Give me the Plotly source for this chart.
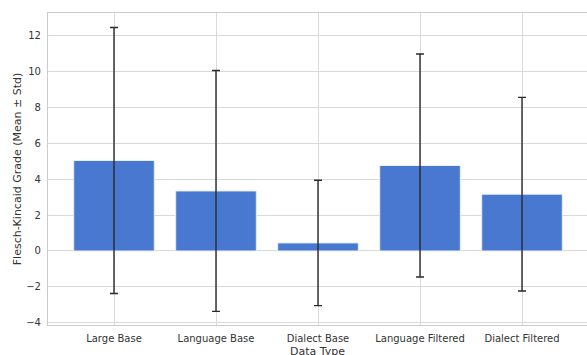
import plotly.graph_objects as go

# Readability scores by data type
categories = ["Large Base", "Language Base", "Dialect Base", "Language Filtered", "Dialect Filtered"]
mean_grade = [5.05, 3.35, 0.45, 4.77, 3.17]
std_grade = [7.42, 6.72, 3.50, 6.22, 5.40]
y_ticks = [-4, -2, 0, 2, 4, 6, 8, 10, 12]
y_tick_text = [("\u2212" + str(abs(v))) if v < 0 else str(v) for v in y_ticks]

font_family = "DejaVu Sans"
text_color = "#333333"
grid_color = "#d9d9d9"

fig = go.Figure(
    go.Bar(
        x=list(range(len(categories))),
        y=mean_grade,
        width=0.79,
        marker=dict(color="#4878cf", line=dict(color="#e8eefa", width=1)),
        error_y=dict(
            type="data",
            array=std_grade,
            visible=True,
            color="#2a2a2a",
            thickness=1.4,
            width=4,
        ),
    )
)

fig.update_layout(
    width=587,
    height=355,
    margin=dict(l=48, r=0, t=13, b=30),
    plot_bgcolor="white",
    paper_bgcolor="white",
    showlegend=False,
    font=dict(family=font_family, size=10, color=text_color),
    xaxis=dict(
        tickmode="array",
        tickvals=list(range(len(categories))),
        ticktext=categories,
        range=[-0.647, 4.637],
        showgrid=True,
        gridcolor=grid_color,
        gridwidth=1,
        showline=True,
        linecolor="#cccccc",
        linewidth=1.2,
        mirror=True,
        ticks="",
        ticklabelstandoff=4,
        tickfont=dict(size=10, color=text_color),
        zeroline=False,
    ),
    yaxis=dict(
        range=[-4.13, 13.28],
        tickmode="array",
        tickvals=y_ticks,
        ticktext=y_tick_text,
        showgrid=True,
        gridcolor=grid_color,
        gridwidth=1,
        showline=True,
        linecolor="#cccccc",
        linewidth=1.2,
        mirror=True,
        ticks="",
        ticklabelstandoff=4,
        tickfont=dict(size=10, color=text_color),
        title=dict(text="Flesch-Kincaid Grade (Mean \u00b1 Std)", font=dict(size=11, color=text_color), standoff=2),
        zeroline=False,
    ),
    annotations=[
        dict(
            text="Data Type",
            xref="paper",
            yref="paper",
            x=0.5,
            y=-0.085,
            xanchor="center",
            yanchor="middle",
            showarrow=False,
            font=dict(size=11, color=text_color),
        )
    ],
)

fig.write_html("out.html")
